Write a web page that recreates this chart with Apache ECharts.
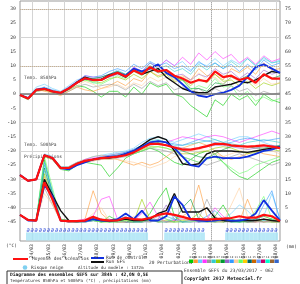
<!DOCTYPE html>
<html>
<head>
<meta charset="utf-8">
<script src="https://cdn.jsdelivr.net/npm/echarts@6/dist/echarts.min.js"></script>
<style>
  html, body { margin: 0; padding: 0; background: #fff; }
  #chart { width: 300px; height: 284px; }
</style>
</head>
<body>
<div id="chart"></div>
<script>
// hours since 23/03 06Z
const hours = [0,12,24,36,48,60,72,84,96,108,120,132,144,156,168,180,192,204,216,228,240,252,264,276,288,300,312,324,336,348,360,372,384];
const dayHours = [18,42,66,90,114,138,162,186,210,234,258,282,306,330,354,378];
const dayLabels = ['24/03','25/03','26/03','27/03','28/03','29/03','30/03','31/03','01/04','02/04','03/04','04/04','05/04','06/04','07/04','08/04'];
const tempTicks = [-45,-40,-35,-30,-25,-20,-15,-10,-5,0,5,10,15,20,25,30];
const rightTicks = [0,5,10,15,20,25,30,35,40,45,50,55,60,65,70,75];
const gridTicks = [-40,-30,-20,-10,0,10,20,30];

// 850hPa temperature
const mean850 = [-0.3,-1.5,1.5,1.8,1,0.5,2,4,5.6,5,5,6.5,7.5,6.2,8.3,7,9.5,8,8.5,6.5,5.5,4,5,4.5,8,6,6.5,5,5.8,4,7,5.5,5.5];
const ctrl850 = [-0.3,-1.5,1.5,2,1,0.3,2,4,5.5,5,5,6.5,7.5,6.5,9,8,9,10.5,7.5,6,3.5,1,-0.5,-1,0,0.5,1.5,3,6,9.5,10.5,9,7.5];
const gfs850 = [-0.3,-1.5,1.5,2,1,0.3,2,4.2,6,5,5.2,6.8,7.5,6,8.5,7,8,9,6,4,2,1,0.5,0.5,2.5,3,3.5,4.5,4,5,6.5,8,7.5];
const pert850 = [
  [-0.5,-2,1,1.5,0.5,0,1.5,3,2.5,1,-1,1,1,-1,2.5,0,4,2.5,3.5,0,-1,-4,-6,-8,-2,-4,0,-2,-0.5,-4,0,-2,-3],
  [0,-1.5,2,1,0.5,-0.5,1,2.5,1.5,1,2,3,4.5,3,5.5,4.5,8,6.5,7.5,5,6.5,5,9,6.5,7,5,9,7.5,9.5,7,11,8.5,9],
  [-0.2,-1,2.5,3.5,2,1,3,5,6,4,5,7,8.5,7,9.5,8,11,9.5,12,10,11.5,8.5,11,10,12.5,10,12,10.5,12.5,10,12.5,11,12],
  [-0.3,-1.2,1.8,2,1,0.5,2.5,4.5,6.5,6,6,7,8,6.5,9.5,8,11,9.5,12,10,13,10.5,14.5,12,15,12.5,14,11,13,10.5,13.5,11.5,12.5],
  [-0.5,-1.5,1,1.5,1,0,1,2.5,3.5,2.5,3,3.5,3,1.5,3.5,2,4.5,3,4,1.5,2.5,1,2,0,2,0.5,3,1,2,-0.5,1,0,0.5],
  [-0.3,-1.3,1.5,2,1.2,0.5,2,4,5.5,5.5,6,7,8,6.5,9,7.5,11,9,10,8,9,7,10.5,8.5,11,9,11.5,9.5,12.5,10,13,11,11.5],
  [-0.4,-1.8,1.3,1.5,0.8,0.2,2,4,5,4.5,4,5.5,6,5,7,5.5,8,6,7,4.5,5,3,5.5,4,7,4.5,5,3,4.5,2,4,3,4],
  [-0.3,-1.6,1.4,1.7,1,0.6,2.2,4.3,6,5.5,6,7,8,7,9,7.5,10,8,8.5,6,5,2,2,1,4,3.5,6,5,6.5,4,7,5.5,6.5],
  [-0.2,-1.4,1.6,2,1,0.4,1.8,3.8,5.4,5,5.5,6,7,6,8.5,7,9,7.5,8.5,6.5,7,5,7,6,9,7,8,5.5,7.5,5.5,8.5,7,8],
  [-0.3,-1.5,1.7,2.5,1.5,0.8,2.5,4.5,6.5,6,6.5,8,9,8,10.5,9,11.5,10,11,9,10,8,11.5,9.5,11,9,10.5,8,10.5,8.5,12,10,11],
  [-0.6,-2,1,1.3,0.6,-0.3,1.2,3,4.5,3.5,2,2.5,3.5,2,4,3,6,4.5,6,4,6,4.5,7.5,5,6,3.5,6,4.5,5.5,3,5.5,3.5,4],
  [-0.4,-1.7,1.2,1.6,0.9,0.3,2,4,5,4,3.5,5,6.5,5.5,8,6.5,9,7.5,8,5.5,5,1.5,3,2,5.5,2.5,3,-1,1,-2.5,-1,-2.5,-1.5]
];

// 500hPa temperature
const mean500 = [-28.5,-30.5,-30,-21.5,-22.5,-26,-26,-24.5,-23.5,-23,-22.5,-22.3,-22,-21.5,-20.5,-19,-17.5,-17.5,-18,-18.8,-19.5,-19.5,-19,-18.3,-17.5,-17.5,-18,-18.3,-18.5,-18.3,-18,-18.5,-19];
const ctrl500 = [-28.5,-30.5,-30,-21.5,-22.5,-26,-26.5,-25,-24,-23,-22.5,-22,-22,-21,-20,-18.5,-17,-16.5,-17,-19,-22,-25,-25.5,-22.5,-22,-22.5,-22.5,-22.5,-22,-21,-20,-19.5,-18.5];
const gfs500 = [-28.5,-30.5,-30,-21.5,-22.5,-26,-26,-24.5,-23.5,-23,-22.5,-22.5,-22,-21,-20,-18,-16,-15,-16,-20,-24.5,-25,-24.5,-21,-20,-20,-20,-20.3,-20.5,-20,-19.5,-19,-18.5];
const pert500 = [
  [-28.5,-30.5,-30,-22,-23,-26.5,-27,-25,-24,-24.5,-25,-29,-26,-22.5,-21,-20,-19,-20,-22,-24,-25,-23,-21,-20,-21,-24,-27,-29,-30,-28,-26,-24,-23],
  [-28.5,-30.3,-29.8,-22,-22.5,-25.5,-25.5,-24,-23,-22,-21.5,-22,-23,-24,-25,-24,-25,-24,-22,-20,-19,-18,-17,-18,-20,-22,-23,-22,-21,-20,-21,-21.5,-22],
  [-28.5,-30.5,-30,-21,-22,-25.5,-25.5,-24,-23,-22,-21.5,-21,-20.5,-20,-19,-17,-15.5,-15,-16,-17,-16,-15,-14,-15,-16,-17,-16,-15,-15,-16,-17,-18,-19],
  [-28.5,-30.5,-30,-21.5,-22.5,-26,-26,-24.5,-23,-22.5,-22,-21.5,-21,-20.5,-19.5,-18,-17,-16.5,-17,-16,-15,-15.5,-16,-15,-14.5,-15,-16,-17,-16,-15,-14,-13,-14],
  [-28.5,-30.5,-30,-22,-23,-26.5,-26.5,-25,-24,-23.5,-23,-23,-22.5,-22,-21,-20,-19,-19.5,-20,-21,-22,-23,-24,-25,-24,-23,-22,-21,-22,-23,-24,-25,-24],
  [-28.5,-30.5,-30,-21.5,-22.5,-26,-26,-24.5,-23.5,-23,-22,-21.5,-21,-20.5,-19.5,-18,-16.5,-16,-17,-18,-18,-17.5,-17,-16.5,-16,-17,-17.5,-18,-17,-16.5,-16,-16.5,-17],
  [-28.5,-30.5,-30,-22,-23,-26,-26,-24.5,-23.5,-23,-22.5,-22.5,-22,-21.5,-20.5,-19.5,-18.5,-18.5,-19,-20,-21,-21,-20.5,-20,-19,-18.5,-19,-20,-21,-20.5,-20,-19.5,-20],
  [-28.5,-30.5,-30,-21.5,-22.5,-26,-26,-24.5,-23.5,-23,-22.5,-22,-21.5,-21,-20,-18.5,-17.5,-17,-18,-19,-20,-21,-22,-22.5,-21,-19.5,-18.5,-18,-18.5,-19,-19,-18.5,-18],
  [-28.5,-30.5,-30,-21.5,-22.5,-26,-26,-24.5,-23.5,-23,-22.5,-22,-21.5,-21,-20,-19,-18,-17.5,-18,-18.5,-19,-19.5,-19,-18.5,-18,-18,-18.5,-19,-19.5,-19,-18.5,-18,-18.5],
  [-28.5,-30.5,-30,-21.5,-22.5,-26,-26,-24.5,-23.5,-23,-22.5,-22,-21.5,-20.5,-19.5,-18,-17,-16.5,-17,-17.5,-18,-17,-16,-16.5,-17,-17.5,-17,-16,-15.5,-16,-16.5,-16,-15.5],
  [-28.5,-30.5,-30,-22,-23,-26.5,-26.5,-25,-24,-23.5,-23,-23,-23,-23.5,-24,-25,-26,-25,-24,-22,-21,-20,-19.5,-20,-21,-22,-21,-20,-19,-18,-19,-20,-21],
  [-28.5,-30.5,-30,-21.5,-22.5,-26,-26,-24.5,-23.5,-23,-22.5,-22,-22,-21.5,-21,-20,-19,-18.5,-19,-20,-22,-23,-24,-23,-22,-24,-26,-28,-27,-25,-24,-23,-22]
];

// precipitation (mm, right axis)
const meanPrecip = [2.5,0.7,0.5,14,8,0.5,0.3,0.3,0.5,1.8,0.8,0.5,0.6,1.5,1,0.8,1.4,2.5,3,2.5,1.8,1,1,0.8,1,1.2,1.4,2,1.5,1.5,2.5,2,0.3];
const ctrlPrecip = [2.5,0.5,0.5,13,9,0.5,0.2,0.2,0.3,1,0.5,0.5,1,3,1,4,0.5,0.5,2,9,6,1,0.5,0.3,0.5,1,0.5,0.5,1,3,7.7,4,0.5];
const gfsPrecip = [2.5,0.7,0.5,15,9.5,4,0.5,0.3,0.5,1,0.5,0.3,0.5,1,0.5,0.5,1,3,4,10,3.5,3.5,3.5,5,1.4,0.5,0.3,0.5,0.5,0.5,1,0.5,0.2];
const pertPrecip = [
  [2.5,0.8,0.5,22,10,1,0.5,0,0.5,1,0,2,0.5,0,1,0,3,8,12,2,0,1,0,0.5,2,6,1,0,0.5,1,2,1,0],
  [2.5,0.6,0.5,16,7,0.5,0,0,1,11,3,0.5,0,0,0,0.5,0,1,0,0.5,2,4,13,2,0,0.5,0,0,8,1,0,0.5,0],
  [2.5,0.8,0.6,18,9,0.5,0.3,0.5,0,0.5,1,0,0.5,0,0,0.5,1,0.5,0,2,1,0,1,0.5,0,1,3,6,4,1,2,10,1],
  [2.5,0.7,0.5,15,8,0.5,0,0.5,1,2,8,9,1,0,0.5,3,7,2,0,0.5,1,0.5,0,1,5,2,0,0.5,1,0,1,0.5,0],
  [2.5,0.6,0.4,12,6,0.4,0,0,0,0.5,0,0.5,0,1,0,0,0.5,2,1,0,0,0.5,1,8,2,0,0,0.5,0,0,0.5,0,0],
  [2.5,0.7,0.6,20,11,1,0.5,0,0.5,0.5,0,0.5,1,0,0.5,0,1,0.5,2,1,0,0.5,0,0,0.5,1,0,0,0.5,1,0.5,1,0],
  [2.5,0.7,0.5,17,8,0.5,0,0,0,0.5,0,0,1,0.5,0,8,1,0,0.5,0,0.5,1,3,0,0.5,0,1,0.5,0,0,1,0,0],
  [2.5,0.7,0.6,19,9,0.5,0.3,0,0.5,0.5,1,0,0,0,0,0,0.5,0,0,0,5,8,1,0.5,0,0,0.5,0,0,0.5,0,0,0],
  [2.5,0.7,0.5,14,8,0.5,0,0.5,0,0.5,0.5,1,0,0,0,0,0.5,1,6,1,0,0,0,0,0,0.5,0,1,0,0,0,0.5,0],
  [2.5,0.7,0.5,21,10,0.5,0.3,0,0,0.5,0.5,0,0.5,2,0,0,0,0.5,0,1,0,0,0.5,2,4,1,0,0,1,0.5,6,11,0.5],
  [2.5,0.5,0.4,10,6,0.5,0,0,0.5,3,5,0.5,0,0,2,0,0,0.5,0,0,1,0,0.5,0,0,0,6,12,2,0,0,0,0],
  [2.5,0.7,0.5,23,12,1,0.3,0,0.5,0.5,0,0,0,0.5,0,0,1,3,1,0,0,0,0.5,0,0,1,0,0,0.5,4,9,1,0]
];

// time steps flagged with snow risk
const snowHours = [12,18,24,30,36,42,48,54,60,66,72,78,84,90,96,102,108,114,120,126,132,138,144,150,156,162,168,174,180,186,
  216,222,228,234,240,246,252,258,264,270,
  306,312,318,324,330,336,342,348,354,360,366,372,378];

const memberColors = ['#00cc00','#ff9933','#66ccff','#ff33ff','#999999','#33cccc','#99cc00','#009933','#9966cc','#3399ff',
  '#ffcc99','#66ff66','#ffcc00','#006666','#cc6600','#6699ff','#cc0066','#00ffcc','#996633','#3366cc'];

const MONO = 'DejaVu Sans Mono';

function pairs(vals) {
  return hours.map((h, i) => [h, vals[i]]);
}

function line(vals, color, width, yAxisIndex, z) {
  return {
    type: 'line',
    data: pairs(vals),
    yAxisIndex: yAxisIndex,
    symbol: 'none',
    silent: true,
    z: z,
    lineStyle: { color: color, width: width },
    itemStyle: { color: color }
  };
}

const series = [];

// reference lines
series.push({
  type: 'line', data: [], yAxisIndex: 0, silent: true, z: 1,
  markLine: {
    symbol: 'none', silent: true, label: { show: false },
    data: [
      { yAxis: 0, lineStyle: { color: '#777', width: 1.5, type: 'solid' } },
      { yAxis: 10, lineStyle: { color: '#c8b090', width: 1, type: 'dotted' } },
      { yAxis: 30, lineStyle: { color: '#c8b090', width: 1, type: 'dotted' } },
      { xAxis: 282, lineStyle: { color: '#aaa', width: 1, type: 'dotted' } }
    ]
  }
});

pert850.forEach((v, i) => series.push(line(v, memberColors[i], 0.6, 0, 2)));
pert500.forEach((v, i) => series.push(line(v, memberColors[i], 0.6, 0, 2)));
pertPrecip.forEach((v, i) => series.push(line(v, memberColors[i], 0.6, 1, 2)));

[[gfs850, 0], [gfs500, 0], [gfsPrecip, 1]].forEach(p => series.push(line(p[0], '#111', 1.4, p[1], 3)));
[[ctrl850, 0], [ctrl500, 0], [ctrlPrecip, 1]].forEach(p => series.push(line(p[0], '#1030e0', 1.8, p[1], 4)));
[[mean850, 0], [mean500, 0], [meanPrecip, 1]].forEach(p => series.push(line(p[0], '#ff1010', 2.2, p[1], 5)));

// snow risk strip
series.push({
  type: 'scatter', yAxisIndex: 0, silent: true, z: 2,
  data: snowHours.map(h => [h, -50.1]),
  symbol: 'rect', symbolSize: [4.2, 8],
  itemStyle: { color: '#a6e4f5' }
});
series.push({
  type: 'scatter', yAxisIndex: 0, silent: true, z: 3,
  data: snowHours.map(h => [h, -47.9]),
  symbolSize: 0,
  label: { show: true, position: 'inside', formatter: '\u2202', color: '#2a4ad8', fontSize: 6, fontWeight: 'bold', fontFamily: 'DejaVu Sans' }
});

const graphics = [
  { type: 'text', left: 24, top: 75, style: { text: 'Temp. 850hPa', fontSize: 4.5, fontFamily: MONO, fill: '#444' } },
  { type: 'text', left: 24, top: 142, style: { text: 'Temp. 500hPa', fontSize: 4.5, fontFamily: MONO, fill: '#444' } },
  { type: 'text', left: 24, top: 154, style: { text: 'Précipitations', fontSize: 4.5, fontFamily: MONO, fill: '#444' } },
  { type: 'text', left: 6, top: 243, style: { text: '(°C)', fontSize: 4.5, fontFamily: MONO, fill: '#333' } },
  { type: 'text', left: 286, top: 244, style: { text: '(mm)', fontSize: 4.5, fontFamily: MONO, fill: '#333' } },
  { type: 'line', shape: { x1: 13, y1: 259, x2: 28, y2: 259 }, style: { stroke: '#ff1010', lineWidth: 2 } },
  { type: 'text', left: 32, top: 256.5, style: { text: 'Moyenne des scénarios', fontSize: 4.5, fontFamily: MONO, fill: '#333' } },
  { type: 'line', shape: { x1: 91, y1: 258, x2: 104, y2: 258 }, style: { stroke: '#1030e0', lineWidth: 2 } },
  { type: 'text', left: 106, top: 255.5, style: { text: 'Run de contrôle', fontSize: 4.5, fontFamily: MONO, fill: '#333' } },
  { type: 'line', shape: { x1: 91, y1: 262, x2: 104, y2: 262 }, style: { stroke: '#111', lineWidth: 2 } },
  { type: 'text', left: 106, top: 259.5, style: { text: 'Run GFS', fontSize: 4.5, fontFamily: MONO, fill: '#333' } },
  { type: 'circle', shape: { cx: 25, cy: 267.5, r: 2.3 }, style: { fill: '#7fd0f0' } },
  { type: 'text', left: 31, top: 265, style: { text: 'Risque neige', fontSize: 4.5, fontFamily: MONO, fill: '#333' } },
  { type: 'text', left: 78, top: 266, style: { text: 'Altitude du modèle : 1372m', fontSize: 4.2, fontFamily: MONO, fill: '#333' } },
  { type: 'rect', shape: { x: 7, y: 271, width: 175, height: 15 }, style: { fill: 'none', stroke: '#333', lineWidth: 1 } },
  { type: 'text', left: 10, top: 272.5, style: { text: 'Diagramme des ensembles GEFS sur 384h : 42,0N 0,5E', fontSize: 4.6, fontWeight: 'bold', fontFamily: MONO, fill: '#111' } },
  { type: 'text', left: 10, top: 278.5, style: { text: 'Températures 850hPa et 500hPa (°C) , précipitations (mm)', fontSize: 4.2, fontFamily: MONO, fill: '#333' } },
  { type: 'text', left: 149, top: 260.5, style: { text: '20 Perturbations', fontSize: 4.5, fontFamily: MONO, fill: '#333' } },
  { type: 'text', left: 184, top: 268.5, style: { text: 'Ensemble GEFS du 23/03/2017 - 06Z', fontSize: 4.5, fontFamily: MONO, fill: '#333' } },
  { type: 'text', left: 184, top: 276, style: { text: 'Copyright 2017 Meteociel.fr', fontSize: 4.8, fontWeight: 'bold', fontFamily: MONO, fill: '#111' } }
];

memberColors.forEach((c, i) => {
  const x = 189 + i * 4.5;
  graphics.push({ type: 'rect', shape: { x: x, y: 259.5, width: 4.3, height: 3.5 }, style: { fill: c } });
  graphics.push({ type: 'text', x: x + 2.15, y: 255.5, style: { text: String(i + 1).padStart(2, '0'), fontSize: 2.6, fontFamily: MONO, fill: '#333', align: 'center' } });
});

const option = {
  animation: false,
  backgroundColor: '#fff',
  grid: { left: 20, right: 20, top: 1, bottom: 43, show: true, borderColor: '#999', borderWidth: 1, backgroundColor: 'transparent' },
  xAxis: {
    type: 'value', min: 0, max: 384,
    axisLine: { show: false },
    axisTick: { show: false, customValues: dayHours },
    splitLine: { show: true, lineStyle: { color: '#d4d4d4', width: 1 } },
    axisLabel: {
      customValues: dayHours, rotate: 90, margin: 3, fontSize: 4.8, fontFamily: MONO, color: '#333',
      formatter: v => dayLabels[dayHours.indexOf(v)]
    }
  },
  yAxis: [
    {
      type: 'value', min: -51.7, max: 32.8,
      axisLine: { show: false },
      axisTick: { show: false, customValues: gridTicks },
      splitLine: { show: true, lineStyle: { color: '#d4d4d4', width: 1 } },
      axisLabel: { customValues: tempTicks, margin: 4, fontSize: 4.8, fontFamily: MONO, color: '#333' }
    },
    {
      type: 'value', min: -6.7, max: 77.8, position: 'right',
      axisLine: { show: false },
      axisTick: { show: false },
      splitLine: { show: false },
      axisLabel: { customValues: rightTicks, margin: 5, fontSize: 4.8, fontFamily: MONO, color: '#333' }
    }
  ],
  series: series,
  graphic: graphics
};

const myChart = echarts.init(document.getElementById('chart'));
myChart.setOption(option);
</script>
</body>
</html>
